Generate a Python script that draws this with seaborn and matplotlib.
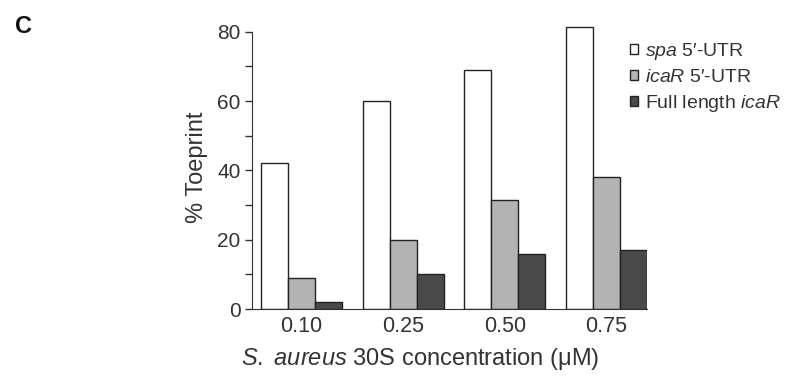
import matplotlib
matplotlib.use('Agg')
import matplotlib.pyplot as plt
from matplotlib.ticker import MultipleLocator
from matplotlib.patches import Patch
import seaborn as sns
import pandas as pd

# Data
concentrations = ['0.10', '0.25', '0.50', '0.75']
spa_utr = [42, 60, 69, 81.5]
icar_utr = [9, 20, 31.5, 38]
icar_full = [2, 10, 16, 17]
series_names = ['spa', 'icaR', 'full']
legend_labels = [r'$\it{spa}$ 5′-UTR', r'$\it{icaR}$ 5′-UTR', r'Full length $\it{icaR}$']
bar_colors = ['#ffffff', '#b3b3b3', '#4a4a4a']

# Long format table for seaborn
df = pd.DataFrame({
    'conc': concentrations * 3,
    'value': spa_utr + icar_utr + icar_full,
    'series': [s for s in series_names for _ in concentrations],
})

sns.set_style('ticks')
plt.rcParams['font.family'] = ['Liberation Sans', 'DejaVu Sans']
plt.rcParams['mathtext.fontset'] = 'custom'
plt.rcParams['mathtext.rm'] = 'Liberation Sans'
plt.rcParams['mathtext.it'] = 'Liberation Sans:italic'

fig = plt.figure(figsize=(7.92, 3.76), dpi=100)
ax = fig.add_axes([0.318, 0.178, 0.499, 0.756])

sns.barplot(data=df, x='conc', y='value', hue='series', order=concentrations,
            hue_order=series_names, palette=bar_colors, edgecolor='#222222',
            linewidth=1, width=0.8, gap=0, ax=ax, legend=False)

ax.set_xlim(-0.49, 3.4)
ax.set_ylim(0, 82)
ax.yaxis.set_major_locator(MultipleLocator(20))
ax.yaxis.set_minor_locator(MultipleLocator(10))
ax.tick_params(axis='y', which='major', length=5, width=1, labelsize=15,
               colors='#333333', pad=3)
ax.tick_params(axis='y', which='minor', length=5, width=1, color='#333333')
ax.tick_params(axis='x', length=0, labelsize=15.5, colors='#333333', pad=5)

sns.despine(ax=ax)
ax.spines['left'].set_bounds(0, 80)
ax.spines['left'].set_color('#333333')
ax.spines['bottom'].set_color('#333333')

ax.set_ylabel('% Toeprint', fontsize=17, color='#333333', labelpad=7)
ax.set_xlabel(r'$\it{S.}$ $\it{aureus}$ 30S concentration (μM)', fontsize=17,
              color='#333333', va='top')
ax.xaxis.set_label_coords(0.425, -0.13)

handles = [Patch(facecolor=c, edgecolor='#222222', linewidth=1) for c in bar_colors]
fig.legend(handles, legend_labels, loc='upper left', bbox_to_anchor=(0.773, 0.938),
           frameon=False, fontsize=14, handlelength=0.45, handleheight=0.45,
           handletextpad=0.35, labelspacing=0.36, labelcolor='#333333')

fig.text(0.019, 0.912, 'C', fontsize=17, fontweight='bold', color='#111111')

fig.savefig('out.png', dpi=100)
